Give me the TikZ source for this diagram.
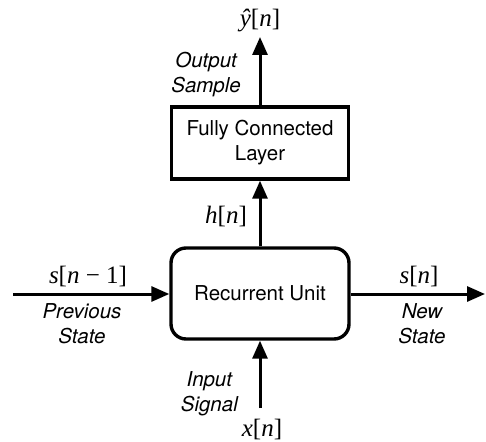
\documentclass[tikz,border=0pt]{standalone}
\usepackage{fontspec}
\setmainfont{TeX Gyre Heros}
\newfontfamily\tms{Liberation Serif}
\usetikzlibrary{arrows.meta}
\newcommand{\mv}[1]{{\itshape #1}}
\begin{document}
\begin{tikzpicture}[x=1pt,y=-1pt,
  box/.style={draw,line width=3.4pt,inner sep=0pt,align=center,font=\fontsize{20.5}{25}\selectfont},
  arr/.style={line width=3pt,-{Triangle[length=18pt,width=15pt]}},
  lbl/.style={font=\fontsize{20.5}{25}\selectfont\itshape,align=center,inner sep=0pt},
  mth/.style={font=\fontsize{25}{28}\selectfont\tms,inner sep=0pt}]
\useasboundingbox (0,0) rectangle (486,441);
\node[box,rounded corners=15pt,minimum width=178pt,minimum height=91pt] (ru) at (260,293.5) {Recurrent Unit};
\node[box,minimum width=177pt,minimum height=72pt] (fc) at (260,143) {Fully Connected\\Layer};
\coordinate (lin) at (13,294);
\coordinate (rout) at (485,294);
\coordinate (bin) at (260,408);
\coordinate (tout) at (260,37);
\draw[arr] (lin) -- (lin -| ru.west);
\draw[arr] (rout -| ru.east) -- (rout);
\draw[arr] (bin) -- (ru.south);
\draw[arr] (ru.north) -- (fc.south);
\draw[arr] (fc.north) -- (tout);
\node[mth] (yh) at (260,21) {\mv{ŷ}[\mv{n}]};
\node[lbl,anchor=east] (os) at (241,75) {Output\\Sample};
\node[mth] (hn) at (226,216) {\mv{h}[\mv{n}]};
\node[mth] (snm) at (88,276) {\mv{s}[\mv{n} − 1]};
\node[lbl] (ps) at (82,324) {Previous\\State};
\node[mth] (sn) at (419,276) {\mv{s}[\mv{n}]};
\node[lbl] (ns) at (422,324) {New\\State};
\node[lbl,anchor=east] (is) at (238,394) {Input\\Signal};
\node[mth] (xn) at (262,429) {\mv{x}[\mv{n}]};
\end{tikzpicture}
\end{document}
